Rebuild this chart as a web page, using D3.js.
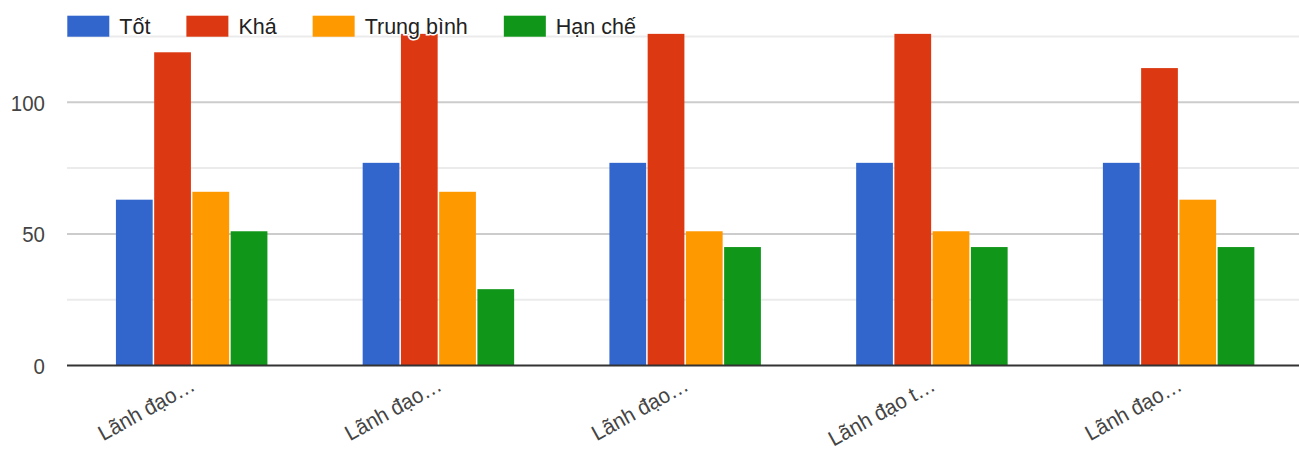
<!DOCTYPE html>
<html>
<head>
<meta charset="utf-8">
<script src="https://cdn.jsdelivr.net/npm/d3@7"></script>
<style>
  html, body { margin: 0; padding: 0; background: #fff; }
  svg { display: block; font-family: Arial, "Liberation Sans", sans-serif; }
</style>
</head>
<body>
<svg id="chart" width="1299" height="452"></svg>
<script>
// Category labels (shown truncated on the axis)
const categories = ["Lãnh đạo…", "Lãnh đạo…", "Lãnh đạo…", "Lãnh đạo t…", "Lãnh đạo…"];

// Series
const seriesNames = ["Tốt", "Khá", "Trung bình", "Hạn chế"];
const seriesColors = ["#3366cc", "#dc3912", "#ff9900", "#109618"];
const tot       = [63, 77, 77, 77, 77];
const kha       = [119, 126, 126, 126, 113];
const trungBinh = [66, 66, 51, 51, 63];
const hanChe    = [51, 29, 45, 45, 45];
const seriesValues = [tot, kha, trungBinh, hanChe];

// Axis ticks
const yLabelTicks = [0, 50, 100];
const yMajorGrid = [50, 100];
const yMinorGrid = [25, 75, 125];

const svg = d3.select("#chart");
const W = 1299;
const plotLeft = 67, plotRight = 1299;
const baseY = 365.5, topY = 36.5;

const y = d3.scaleLinear().domain([0, 125]).range([baseY, topY]);

const x0 = d3.scaleBand()
  .domain(d3.range(categories.length))
  .range([68.3, 1302])
  .paddingInner(0.38)
  .paddingOuter(0.19);

const x1 = d3.scaleBand()
  .domain(d3.range(seriesNames.length))
  .range([0, x0.bandwidth()]);

// Gridlines
const grid = svg.append("g");
grid.selectAll("line.minor")
  .data(yMinorGrid)
  .join("line")
  .attr("class", "minor")
  .attr("x1", plotLeft).attr("x2", plotRight)
  .attr("y1", d => y(d)).attr("y2", d => y(d))
  .attr("stroke", "#ebebeb").attr("stroke-width", 2);
grid.selectAll("line.major")
  .data(yMajorGrid)
  .join("line")
  .attr("class", "major")
  .attr("x1", plotLeft).attr("x2", plotRight)
  .attr("y1", d => y(d)).attr("y2", d => y(d))
  .attr("stroke", "#cccccc").attr("stroke-width", 2);

// Bars
const groups = svg.append("g").selectAll("g")
  .data(categories.map((c, i) => i))
  .join("g")
  .attr("transform", i => `translate(${x0(i)},0)`);

groups.selectAll("rect")
  .data(i => seriesValues.map((vals, s) => ({ s, v: vals[i] })))
  .join("rect")
  .attr("x", d => x1(d.s) + 0.75)
  .attr("width", x1.bandwidth() - 1.5)
  .attr("y", d => y(d.v))
  .attr("height", d => baseY - y(d.v))
  .attr("fill", d => seriesColors[d.s]);

// Y axis labels
const yAxis = svg.append("g")
  .attr("transform", `translate(${45},0)`)
  .call(d3.axisLeft(y).tickValues(yLabelTicks).tickSize(0).tickPadding(0).tickFormat(d3.format("d")));
yAxis.select(".domain").remove();
yAxis.selectAll("text")
  .attr("font-size", 22)
  .attr("font-family", "Arial, 'Liberation Sans', sans-serif")
  .attr("fill", "#444")
  .attr("dy", "0.36em")
  .attr("transform", "scale(0.93,1)");

// X axis with slanted labels
const xAxis = svg.append("g")
  .attr("transform", `translate(0,${baseY})`)
  .call(d3.axisBottom(x0).tickSize(0).tickFormat(i => categories[i]));
xAxis.select(".domain").remove();
xAxis.selectAll("text")
  .attr("font-size", 21.5)
  .attr("font-family", "Arial, 'Liberation Sans', sans-serif")
  .attr("fill", "#444")
  .attr("text-anchor", "end")
  .attr("x", 0).attr("y", 0).attr("dy", 0)
  .attr("transform", "translate(5,24) rotate(-29) scale(0.96,1)");

// Baseline
svg.append("line")
  .attr("x1", plotLeft).attr("x2", W)
  .attr("y1", y(0)).attr("y2", y(0))
  .attr("stroke", "#333").attr("stroke-width", 2);

// Legend
const legend = svg.append("g");
let lx = 67.3;
seriesNames.forEach((name, s) => {
  legend.append("rect")
    .attr("x", lx).attr("y", 15.7)
    .attr("width", 42).attr("height", 21)
    .attr("fill", seriesColors[s]);
  const t = legend.append("text")
    .attr("x", lx + 52).attr("y", 34)
    .attr("font-size", 21.5)
    .attr("fill", "#222")
    .attr("stroke", "#fff").attr("stroke-width", 3)
    .attr("paint-order", "stroke")
    .text(name);
  lx = lx + 52 + t.node().getComputedTextLength() + 36;
});
</script>
</body>
</html>
